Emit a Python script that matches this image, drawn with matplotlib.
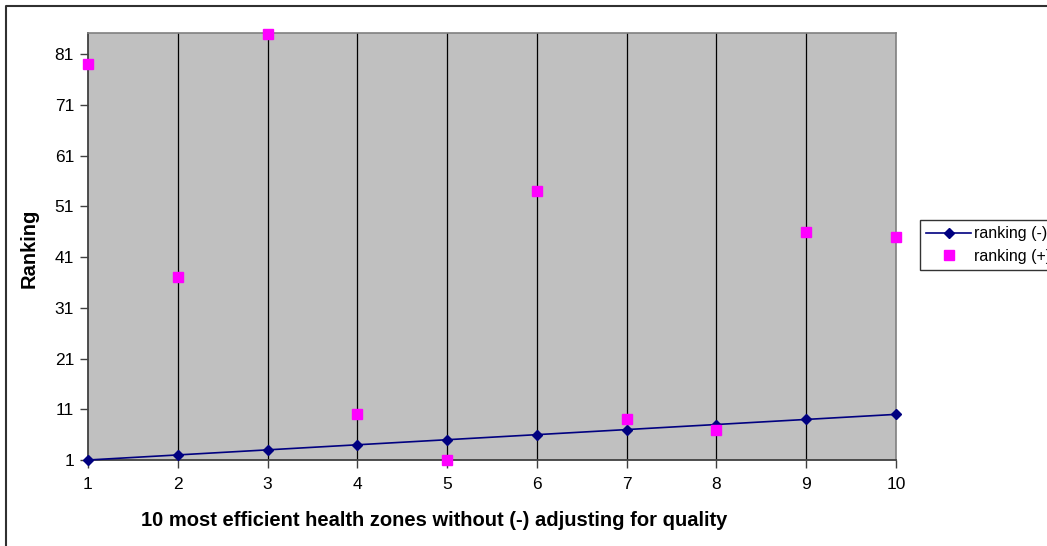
import matplotlib.pyplot as plt
from matplotlib.lines import Line2D

plt.rcParams['font.family'] = ['Liberation Sans', 'DejaVu Sans']

# health zones and their rankings
zones = [1, 2, 3, 4, 5, 6, 7, 8, 9, 10]
rank_minus = [1, 2, 3, 4, 5, 6, 7, 8, 9, 10]
rank_plus = [79, 37, 85, 10, 1, 54, 9, 7, 46, 45]
yticks = [1, 11, 21, 31, 41, 51, 61, 71, 81]

W, H = 1047, 546
fig = plt.figure(figsize=(W / 100, H / 100), dpi=100)
ax = fig.add_axes([88 / W, 1 - 460 / H, 808 / W, 427 / H])

# chart border (only top and left edges are inside the image)
fig.lines.append(Line2D([6 / W, 6 / W, 1.0], [0.0, 1 - 5.5 / H, 1 - 5.5 / H],
                        transform=fig.transFigure, color='#303030', linewidth=1.5))

ax.set_facecolor('#c0c0c0')
for x in zones[1:-1]:
    ax.axvline(x, color='black', linewidth=0.9, zorder=1)

ax.plot(zones, rank_minus, color='#000080', marker='D', markersize=5.5,
        linewidth=1.2, label='ranking (-)', zorder=3, clip_on=False)
ax.plot(zones, rank_plus, linestyle='none', color='#ff00ff', marker='s',
        markersize=6.5, label='ranking (+)', zorder=4, clip_on=False)

ax.set_xlim(1, 10)
ax.set_ylim(1, 85.2)
ax.set_xticks(zones)
ax.set_yticks(yticks)
ax.tick_params(axis='both', direction='out', length=6, width=1,
               color='#404040', labelsize=12.5)
ax.tick_params(axis='x', pad=6)
ax.tick_params(axis='y', pad=4)

for side in ['left', 'bottom']:
    ax.spines[side].set_color('#404040')
    ax.spines[side].set_linewidth(1.3)
for side in ['top', 'right']:
    ax.spines[side].set_color('#808080')
    ax.spines[side].set_linewidth(1.2)

fig.text(434 / W, 1 - 520 / H,
         '10 most efficient health zones without (-) adjusting for quality',
         ha='center', va='center', fontsize=14.5, fontweight='bold')
fig.text(29 / W, 1 - 248 / H, 'Ranking', rotation=90, ha='center', va='center',
         fontsize=14.5, fontweight='bold')

leg = fig.legend(loc='upper left', bbox_to_anchor=(920 / W, 1 - 220 / H),
                 frameon=True, fancybox=False, edgecolor='black', fontsize=11.5,
                 handlelength=2.8, handletextpad=0.2, borderaxespad=0,
                 borderpad=0.4, labelspacing=0.45)
leg.get_frame().set_linewidth(1.0)

fig.savefig('out.png', dpi=100)
